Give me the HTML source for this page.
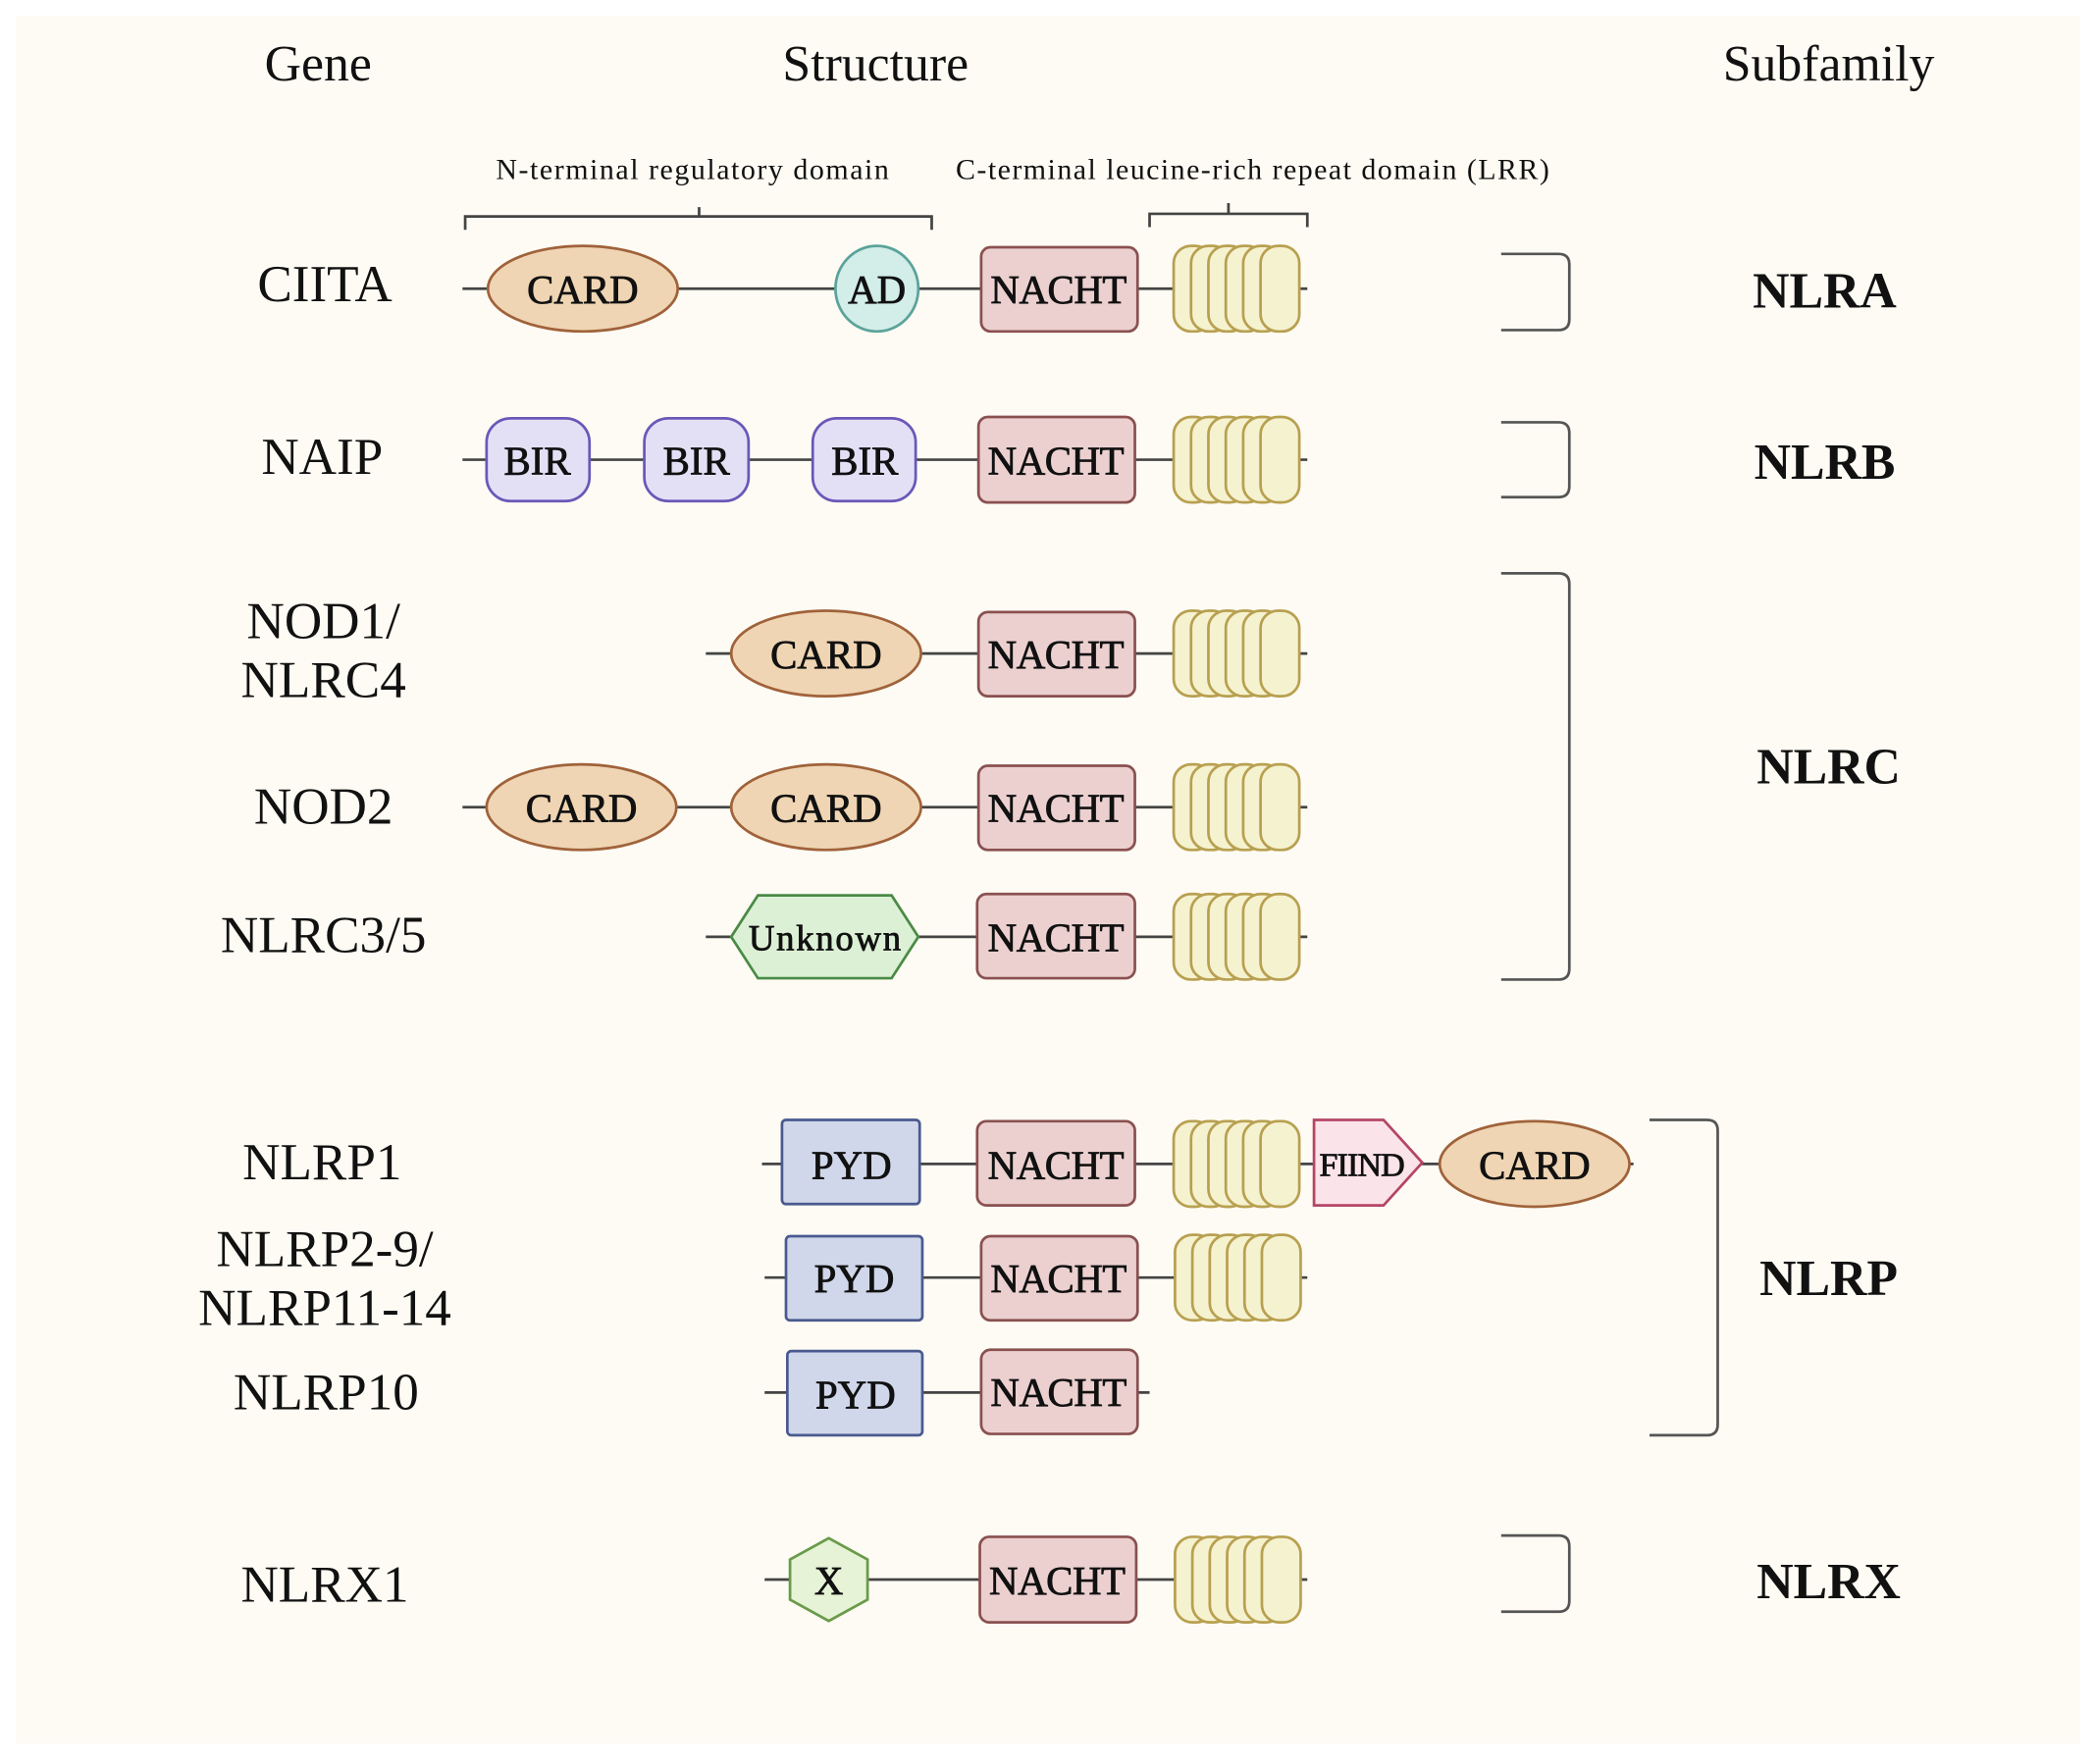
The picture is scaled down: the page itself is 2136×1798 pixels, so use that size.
<!DOCTYPE html>
<html><head><meta charset="utf-8"><style>
html,body{margin:0;padding:0;background:#fff;}
svg{display:block;}
text{font-family:"Liberation Serif",serif;fill:#111;}
.d{font-size:30px;text-anchor:middle;dominant-baseline:central;stroke:#111;stroke-width:0.6;}
.g{font-size:39px;text-anchor:middle;dominant-baseline:central;}
.s{font-size:38px;font-weight:bold;text-anchor:middle;dominant-baseline:central;}
.h{font-size:38px;text-anchor:middle;dominant-baseline:central;}
.ln{stroke:#444;stroke-width:2;fill:none;}
.card{fill:#efd5b3;stroke:#a0623a;stroke-width:2;}
.nacht{fill:#ecd0d0;stroke:#8a5050;stroke-width:2;}
.lrr{fill:#f5f2d0;stroke:#b8a050;stroke-width:2;}
.bir{fill:#e3e0f6;stroke:#6a58b8;stroke-width:2;}
.pyd{fill:#d0d7ea;stroke:#4a5a90;stroke-width:2;}
.br{stroke:#555;stroke-width:2;fill:none;}
</style></head><body>
<svg width="2136" height="1798" viewBox="0 0 1568 1320" preserveAspectRatio="none" xmlns="http://www.w3.org/2000/svg">
<defs>
<g id="lrr">
<rect class="lrr" x="0" y="-32" width="29" height="64" rx="13"/>
<rect class="lrr" x="13" y="-32" width="29" height="64" rx="13"/>
<rect class="lrr" x="26" y="-32" width="29" height="64" rx="13"/>
<rect class="lrr" x="39" y="-32" width="29" height="64" rx="13"/>
<rect class="lrr" x="52" y="-32" width="29" height="64" rx="13"/>
<rect class="lrr" x="65" y="-32" width="29" height="64" rx="13"/>
</g>
</defs>
<rect x="0" y="0" width="1568" height="1320" fill="#fff"/>
<rect x="12" y="12" width="1544" height="1293" fill="#fdfbf3"/>

<text class="h" x="238" y="48">Gene</text>
<text class="h" x="655" y="48">Structure</text>
<text class="h" x="1368" y="48">Subfamily</text>
<text x="518" y="127" style="font-size:22px;text-anchor:middle;dominant-baseline:central" textLength="294">N-terminal regulatory domain</text>
<text x="937" y="127" style="font-size:22px;text-anchor:middle;dominant-baseline:central" textLength="444">C-terminal leucine-rich repeat domain (LRR)</text>
<path class="ln" d="M348 172 V162 H697 V172 M523 162 V155"/>
<path class="ln" d="M860 170 V160 H978 V170 M919 160 V152"/>

<!-- CIITA -->
<text class="g" x="243" y="213">CIITA</text>
<line class="ln" x1="346" y1="216" x2="978" y2="216"/>
<ellipse class="card" cx="436" cy="216" rx="71" ry="32"/><text class="d" x="436" y="217">CARD</text>
<ellipse cx="656" cy="216" rx="31" ry="32" fill="#d3ede8" stroke="#5aa39a" stroke-width="2"/><text class="d" x="656" y="217">AD</text>
<rect class="nacht" x="734" y="185" width="117" height="63" rx="7"/><text class="d" x="792" y="217" textLength="102">NACHT</text>
<use href="#lrr" x="878" y="216"/>
<path class="br" d="M1123 190 H1166 Q1174 190 1174 198 V239 Q1174 247 1166 247 H1123"/>
<text class="s" x="1365" y="218">NLRA</text>

<!-- NAIP -->
<text class="g" x="241" y="342">NAIP</text>
<line class="ln" x1="346" y1="344" x2="978" y2="344"/>
<rect class="bir" x="364" y="313" width="77" height="62" rx="18"/><text class="d" x="402" y="345">BIR</text>
<rect class="bir" x="482" y="313" width="78" height="62" rx="18"/><text class="d" x="521" y="345">BIR</text>
<rect class="bir" x="608" y="313" width="77" height="62" rx="18"/><text class="d" x="647" y="345">BIR</text>
<rect class="nacht" x="732" y="312" width="117" height="64" rx="7"/><text class="d" x="790" y="345" textLength="102">NACHT</text>
<use href="#lrr" x="878" y="344"/>
<path class="br" d="M1123 316 H1166 Q1174 316 1174 324 V364 Q1174 372 1166 372 H1123"/>
<text class="s" x="1365" y="346">NLRB</text>

<!-- NOD1 -->
<text class="g" x="242" y="465">NOD1/</text>
<text class="g" x="242" y="509">NLRC4</text>
<line class="ln" x1="528" y1="489" x2="978" y2="489"/>
<ellipse class="card" cx="618" cy="489" rx="71" ry="32"/><text class="d" x="618" y="490">CARD</text>
<rect class="nacht" x="732" y="458" width="117" height="63" rx="7"/><text class="d" x="790" y="490" textLength="102">NACHT</text>
<use href="#lrr" x="878" y="489"/>

<!-- NOD2 -->
<text class="g" x="242" y="604">NOD2</text>
<line class="ln" x1="346" y1="604" x2="978" y2="604"/>
<ellipse class="card" cx="435" cy="604" rx="71" ry="32"/><text class="d" x="435" y="605">CARD</text>
<ellipse class="card" cx="618" cy="604" rx="71" ry="32"/><text class="d" x="618" y="605">CARD</text>
<rect class="nacht" x="732" y="573" width="117" height="63" rx="7"/><text class="d" x="790" y="605" textLength="102">NACHT</text>
<use href="#lrr" x="878" y="604"/>

<!-- NLRC3 -->
<text class="g" x="242" y="700">NLRC3/5</text>
<line class="ln" x1="528" y1="701" x2="978" y2="701"/>
<polygon points="547,701 567,670 667,670 687,701 667,732 567,732" fill="#dcf0d6" stroke="#4a8a45" stroke-width="2"/><text class="d" x="617" y="702" style="font-size:27px" textLength="114">Unknown</text>
<rect class="nacht" x="731" y="669" width="118" height="63" rx="7"/><text class="d" x="790" y="702" textLength="102">NACHT</text>
<use href="#lrr" x="878" y="701"/>
<path class="br" d="M1123 429 H1166 Q1174 429 1174 437 V725 Q1174 733 1166 733 H1123"/>
<text class="s" x="1368" y="574">NLRC</text>

<!-- NLRP1 -->
<text class="g" x="241" y="870">NLRP1</text>
<line class="ln" x1="570" y1="871" x2="1222" y2="871"/>
<rect class="pyd" x="585" y="838" width="103" height="63" rx="3"/><text class="d" x="637" y="872">PYD</text>
<rect class="nacht" x="731" y="839" width="118" height="63" rx="7"/><text class="d" x="790" y="872" textLength="102">NACHT</text>
<use href="#lrr" x="878" y="871"/>
<polygon points="983,838 1035,838 1064,870 1035,902 983,902" fill="#fbe3ea" stroke="#b54565" stroke-width="2"/><text class="d" x="1019" y="872" style="font-size:25px" textLength="64">FIIND</text>
<ellipse class="card" cx="1148" cy="871" rx="71" ry="32"/><text class="d" x="1148" y="872">CARD</text>

<!-- NLRP2 -->
<text class="g" x="243" y="935">NLRP2-9/</text>
<text class="g" x="243" y="979">NLRP11-14</text>
<line class="ln" x1="572" y1="956" x2="978" y2="956"/>
<rect class="pyd" x="588" y="925" width="102" height="63" rx="3"/><text class="d" x="639" y="957">PYD</text>
<rect class="nacht" x="734" y="925" width="117" height="63" rx="7"/><text class="d" x="792" y="957" textLength="102">NACHT</text>
<use href="#lrr" x="879" y="956"/>

<!-- NLRP10 -->
<text class="g" x="244" y="1042">NLRP10</text>
<line class="ln" x1="572" y1="1042" x2="860" y2="1042"/>
<rect class="pyd" x="589" y="1011" width="101" height="63" rx="3"/><text class="d" x="640" y="1044">PYD</text>
<rect class="nacht" x="734" y="1010" width="117" height="63" rx="7"/><text class="d" x="792" y="1042" textLength="102">NACHT</text>
<path class="br" d="M1234 838 H1277 Q1285 838 1285 846 V1066 Q1285 1074 1277 1074 H1234"/>
<text class="s" x="1368" y="957">NLRP</text>

<!-- NLRX1 -->
<text class="g" x="243" y="1186">NLRX1</text>
<line class="ln" x1="572" y1="1182" x2="978" y2="1182"/>
<polygon points="620,1151 649,1167 649,1197 620,1213 591,1197 591,1167" fill="#e6f3d6" stroke="#6a9a4a" stroke-width="2"/><text class="d" x="620" y="1183">X</text>
<rect class="nacht" x="733" y="1150" width="117" height="64" rx="7"/><text class="d" x="791" y="1183" textLength="102">NACHT</text>
<use href="#lrr" x="879" y="1182"/>
<path class="br" d="M1123 1149 H1166 Q1174 1149 1174 1157 V1198 Q1174 1206 1166 1206 H1123"/>
<text class="s" x="1368" y="1184">NLRX</text>
</svg>
</body></html>
